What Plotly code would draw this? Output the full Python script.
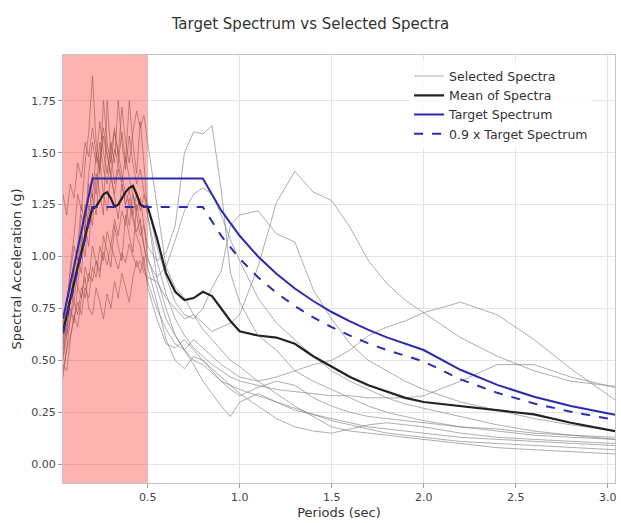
import plotly.graph_objects as go

# ---------------- data ----------------
periods = [0.04, 0.06, 0.08, 0.10, 0.12, 0.14, 0.16, 0.18, 0.20, 0.22, 0.24, 0.26,
           0.28, 0.30, 0.32, 0.34, 0.36, 0.38, 0.40, 0.42, 0.44, 0.46, 0.48, 0.50,
           0.55, 0.60, 0.65, 0.70, 0.75, 0.80, 0.85, 0.90, 0.95, 1.00,
           1.1, 1.2, 1.3, 1.4, 1.5, 1.6, 1.7, 1.8, 1.9, 2.0,
           2.2, 2.4, 2.6, 2.8, 3.04]

rec_A = [0.50, 0.62, 0.70, 0.78, 0.72, 0.85, 0.80, 0.92, 0.88, 0.98, 0.93, 1.02,
         0.96, 1.05, 1.00, 0.94, 1.02, 0.97, 1.06, 1.00, 0.95, 0.98, 0.92, 0.90,
         0.88, 0.80, 0.75, 0.70, 0.72, 0.68, 0.64, 0.66, 0.68, 0.72,
         0.95, 1.26, 1.41, 1.31, 1.27, 1.14, 0.98, 0.87, 0.79, 0.73,
         0.61, 0.52, 0.45, 0.40, 0.375]
rec_B = [1.30, 1.20, 1.35, 1.28, 1.45, 1.38, 1.55, 1.48, 1.62, 1.50, 1.42, 1.58,
         1.48, 1.40, 1.52, 1.45, 1.36, 1.48, 1.38, 1.30, 1.22, 1.28, 1.15, 1.05,
         0.98, 1.02, 1.15, 1.50, 1.60, 1.59, 1.63, 1.32, 0.92, 0.78,
         0.62, 0.55, 0.45, 0.40, 0.36, 0.32, 0.28, 0.25, 0.23, 0.21,
         0.18, 0.16, 0.14, 0.13, 0.12]
rec_C = [0.60, 0.75, 0.95, 1.10, 1.30, 1.22, 1.45, 1.60, 1.87, 1.55, 1.45, 1.62,
         1.50, 1.38, 1.30, 1.42, 1.35, 1.25, 1.32, 1.20, 1.12, 1.18, 1.05, 0.98,
         0.90, 0.95, 1.08, 1.22, 1.30, 1.33, 1.30, 1.20, 1.08, 0.98,
         0.80, 0.68, 0.60, 0.52, 0.45, 0.40, 0.36, 0.32, 0.29, 0.27,
         0.23, 0.19, 0.16, 0.14, 0.12]
rec_D = [0.45, 0.55, 0.62, 0.70, 0.78, 0.72, 0.85, 0.80, 0.95, 0.90, 1.05, 0.98,
         1.12, 1.05, 1.18, 1.10, 1.22, 1.15, 1.28, 1.20, 1.30, 1.22, 1.30, 1.25,
         1.05, 0.90, 0.78, 0.72, 0.70, 0.75, 0.85, 0.93, 1.15, 1.20,
         1.22, 1.11, 1.07, 0.84, 0.70, 0.58, 0.50, 0.45, 0.40, 0.36,
         0.30, 0.26, 0.22, 0.19, 0.16]
rec_E = [0.65, 0.80, 0.92, 1.05, 0.98, 1.20, 1.12, 1.35, 1.28, 1.50, 1.40, 1.75,
         1.55, 1.45, 1.60, 1.50, 1.40, 1.30, 1.25, 1.18, 1.10, 1.05, 0.95, 0.88,
         0.75, 0.65, 0.58, 0.55, 0.60, 0.56, 0.52, 0.48, 0.45, 0.42,
         0.40, 0.42, 0.45, 0.48, 0.50, 0.55, 0.62, 0.66, 0.69, 0.73,
         0.78, 0.72, 0.60, 0.46, 0.31]
rec_F = [0.55, 0.68, 0.80, 0.92, 1.05, 1.25, 1.15, 1.40, 1.55, 1.45, 1.65, 1.50,
         1.40, 1.55, 1.45, 1.75, 1.55, 1.42, 1.58, 1.45, 1.35, 1.42, 1.30, 1.20,
         0.98, 0.82, 0.70, 0.62, 0.56, 0.52, 0.48, 0.45, 0.42, 0.40,
         0.38, 0.36, 0.35, 0.34, 0.33, 0.33, 0.32, 0.32, 0.32, 0.33,
         0.40, 0.48, 0.48, 0.42, 0.37]
rec_G = [0.42, 0.55, 0.70, 0.85, 1.00, 0.92, 1.15, 1.05, 1.30, 1.20, 1.45, 1.30,
         1.22, 1.40, 1.28, 1.18, 1.35, 1.25, 1.15, 1.30, 1.20, 1.10, 1.15, 1.00,
         0.85, 0.70, 0.62, 0.55, 0.50, 0.48, 0.44, 0.40, 0.36, 0.33,
         0.37, 0.40, 0.38, 0.32, 0.28, 0.25, 0.23, 0.22, 0.21, 0.20,
         0.18, 0.17, 0.15, 0.14, 0.13]
rec_H = [0.58, 0.70, 0.85, 0.78, 0.95, 1.10, 1.00, 1.25, 1.15, 1.40, 1.30, 1.20,
         1.75, 1.50, 1.35, 1.45, 1.60, 1.45, 1.75, 1.55, 1.40, 1.65, 1.45, 1.20,
         0.90, 0.75, 0.62, 0.55, 0.48, 0.40, 0.34, 0.28, 0.23, 0.30,
         0.34, 0.30, 0.26, 0.24, 0.22, 0.20, 0.18, 0.17, 0.16, 0.15,
         0.13, 0.12, 0.11, 0.10, 0.09]
rec_I = [0.70, 0.62, 0.75, 0.68, 0.85, 0.80, 0.95, 0.88, 1.05, 0.98, 0.90, 1.10,
         1.02, 0.95, 1.15, 1.05, 0.98, 1.20, 1.10, 1.02, 1.25, 1.15, 1.05, 0.95,
         0.78, 0.60, 0.50, 0.46, 0.52, 0.50, 0.45, 0.40, 0.38, 0.36,
         0.33, 0.30, 0.27, 0.24, 0.21, 0.19, 0.17, 0.15, 0.14, 0.13,
         0.11, 0.10, 0.09, 0.08, 0.07]
rec_J = [0.52, 0.65, 0.78, 0.92, 0.85, 1.05, 1.25, 1.15, 1.40, 1.30, 1.55, 1.42,
         1.35, 1.50, 1.62, 1.48, 1.72, 1.55, 1.45, 1.60, 1.70, 1.62, 1.68, 1.55,
         1.25, 0.95, 0.85, 0.80, 0.72, 0.65, 0.60, 0.55, 0.50, 0.47,
         0.40, 0.34, 0.28, 0.23, 0.18, 0.16, 0.15, 0.14, 0.13, 0.12,
         0.10, 0.08, 0.07, 0.06, 0.05]
rec_K = [0.48, 0.45, 0.60, 0.72, 0.66, 0.80, 0.90, 0.75, 0.72, 0.85, 0.78, 0.70,
         0.82, 0.75, 0.88, 0.80, 0.92, 0.85, 0.78, 0.90, 0.98, 0.92, 1.00, 0.85,
         0.70, 0.58, 0.56, 0.60, 0.55, 0.50, 0.46, 0.42, 0.38, 0.34,
         0.28, 0.22, 0.18, 0.16, 0.15, 0.17, 0.19, 0.20, 0.19, 0.18,
         0.15, 0.13, 0.12, 0.11, 0.10]

selected_spectra = [rec_A, rec_B, rec_C, rec_D, rec_E, rec_F,
                    rec_G, rec_H, rec_I, rec_J, rec_K]

mean_spectrum = [0.64, 0.72, 0.80, 0.87, 0.95, 1.02, 1.10, 1.17, 1.23, 1.24, 1.27, 1.30,
                 1.31, 1.28, 1.24, 1.25, 1.28, 1.31, 1.33, 1.34, 1.30, 1.25, 1.24, 1.24,
                 1.09, 0.92, 0.83, 0.79, 0.80, 0.83, 0.81, 0.75, 0.69, 0.64,
                 0.62, 0.61, 0.58, 0.52, 0.47, 0.42, 0.38, 0.35, 0.32, 0.30,
                 0.28, 0.26, 0.24, 0.20, 0.16]

target_periods = [0.04, 0.20, 0.80, 0.90, 1.0, 1.1, 1.2, 1.3, 1.4, 1.5, 1.6, 1.7,
                  1.8, 1.9, 2.0, 2.2, 2.4, 2.6, 2.8, 3.04]
target_spectrum = [0.70, 1.375, 1.375, 1.222, 1.100, 1.000, 0.917, 0.846, 0.786,
                   0.733, 0.688, 0.647, 0.611, 0.579, 0.550, 0.455, 0.382, 0.325,
                   0.281, 0.238]
target_90 = [0.63, 1.238, 1.238, 1.100, 0.990, 0.900, 0.825, 0.762, 0.707,
             0.660, 0.619, 0.582, 0.550, 0.521, 0.495, 0.409, 0.344, 0.293,
             0.253, 0.214]

x_ticks = [0.5, 1.0, 1.5, 2.0, 2.5, 3.0]
x_tick_labels = ["0.5", "1.0", "1.5", "2.0", "2.5", "3.0"]
y_ticks = [0.00, 0.25, 0.50, 0.75, 1.00, 1.25, 1.50, 1.75]
y_tick_labels = ["0.00", "0.25", "0.50", "0.75", "1.00", "1.25", "1.50", "1.75"]

x_range = [0.04, 3.04]
y_range = [-0.09, 1.97]
shade_span = [0.04, 0.5]   # period band highlighted

# ---------------- figure ----------------
FONT = "DejaVu Sans"
fig = go.Figure()

for i, rec in enumerate(selected_spectra):
    fig.add_trace(go.Scatter(
        x=periods, y=rec, mode="lines",
        line=dict(color="rgba(120,120,120,0.6)", width=1),
        name="Selected Spectra", legendgroup="sel",
        showlegend=(i == 0), hoverinfo="skip"))

# shaded period band (drawn above grey records, below mean/target)
fig.add_trace(go.Scatter(
    x=[shade_span[0], shade_span[1], shade_span[1], shade_span[0], shade_span[0]],
    y=[y_range[0], y_range[0], y_range[1], y_range[1], y_range[0]],
    fill="toself", fillcolor="rgba(255,0,0,0.3)", mode="lines",
    line=dict(width=0), showlegend=False, hoverinfo="skip"))

fig.add_trace(go.Scatter(
    x=periods, y=mean_spectrum, mode="lines",
    line=dict(color="#222222", width=2.2), name="Mean of Spectra"))
fig.add_trace(go.Scatter(
    x=target_periods, y=target_spectrum, mode="lines",
    line=dict(color="#2b2bb0", width=2), name="Target Spectrum"))
fig.add_trace(go.Scatter(
    x=target_periods, y=target_90, mode="lines",
    line=dict(color="#2b2bb0", width=2, dash="dash"), name="0.9 x Target Spectrum"))

axis_common = dict(
    automargin=False,
    showgrid=True, gridcolor="#e3e3e3", gridwidth=1,
    showline=True, linecolor="#c4c4c4", linewidth=1, mirror=True,
    ticks="outside", ticklen=4, tickcolor="#9a9a9a",
    tickfont=dict(family=FONT, size=11, color="#444444"),
    zeroline=False,
)

fig.update_layout(
    width=621, height=523,
    margin=dict(l=63, r=6, t=55, b=40),
    paper_bgcolor="white", plot_bgcolor="white",
    font=dict(family=FONT, color="#333333"),
    title=dict(text="Target Spectrum vs Selected Spectra",
               font=dict(family=FONT, size=15, color="#333333"),
               x=0.5, xanchor="center", y=1 - 24 / 523, yanchor="middle"),
    xaxis=dict(range=x_range, tickvals=x_ticks, ticktext=x_tick_labels,
               title=dict(text="Periods (sec)", standoff=4,
                          font=dict(family=FONT, size=13, color="#333333")),
               **axis_common),
    yaxis=dict(range=y_range, tickvals=y_ticks, ticktext=y_tick_labels,
               title=dict(text="Spectral Acceleration (g)", standoff=6,
                          font=dict(family=FONT, size=13, color="#333333")),
               **axis_common),
    legend=dict(x=0.627, xanchor="left", y=0.985, yanchor="top",
                bgcolor="rgba(255,255,255,0.85)", borderwidth=0,
                font=dict(family=FONT, size=12.5, color="#333333"),
                tracegroupgap=0),
    showlegend=True,
)

fig.write_html("out.html",
               config={"displayModeBar": False},
               post_script="document.body.style.margin='0px';"
                           "document.body.style.overflow='hidden';")
